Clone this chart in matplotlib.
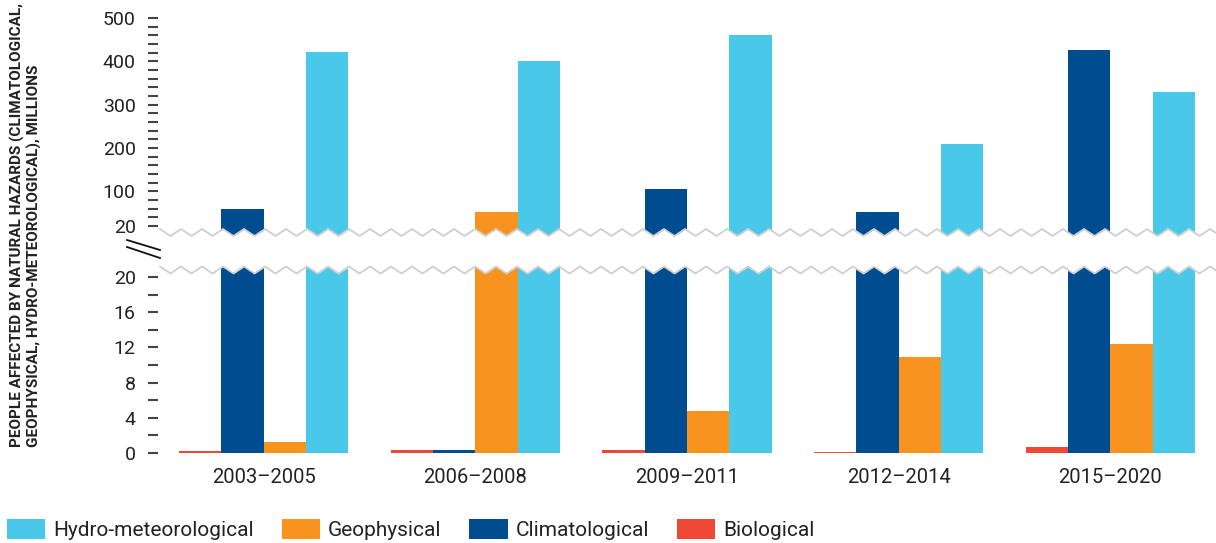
import numpy as np
import matplotlib
matplotlib.use('Agg')
import matplotlib.pyplot as plt
from matplotlib.patches import Patch

plt.rcParams['font.family'] = ['Roboto', 'DejaVu Sans']

# data, millions of people affected
periods = ['2003–2005', '2006–2008', '2009–2011', '2012–2014', '2015–2020']
biological = [0.25, 0.35, 0.3, 0.06, 0.7]
climatological = [59, 0.35, 105, 52, 425]
geophysical = [1.2, 52, 4.8, 10.9, 12.4]
hydro_met = [421, 400, 460, 209, 329]

names = ['Biological', 'Climatological', 'Geophysical', 'Hydro-meteorological']
values = [biological, climatological, geophysical, hydro_met]
colors = ['#EF4836', '#004C91', '#F7931E', '#4AC8EA']
legend_order = [3, 2, 1, 0]

top_ticks = [20, 100, 200, 300, 400, 500]
bottom_ticks = [0, 4, 8, 12, 16, 20]

W, H = 1216, 543
fig = plt.figure(figsize=(W / 100, H / 100), dpi=100)

def fy(px):
    return 1 - px / H

left = 158 / W
width = 1 - left

#top panel: 20 sits at pixel 226, 0.4336 px per unit
sc_top = 0.4336
ax_top = fig.add_axes([left, fy(240), width, (240 - 5) / H])
ax_top.set_ylim(20 - (240 - 226) / sc_top, 20 + (226 - 5) / sc_top)
#bottom panel: 0 at 453, 8.8 px per unit
sc_bot = 8.8
ax_bot = fig.add_axes([left, fy(453), width, (453 - 262) / H])
ax_bot.set_ylim(0, (453 - 262) / sc_bot)

x = np.arange(len(periods))
bw = 0.2
for i, (vals, col) in enumerate(zip(values, colors)):
    v = np.array(vals, dtype=float)
    pos = x + (i - 1.5) * bw
    ax_bot.bar(pos, v, bw, color=col, linewidth=0)
    ax_top.bar(pos, np.where(v > 20, v, 0), bw, color=col, linewidth=0)

for ax in (ax_top, ax_bot):
    ax.set_xlim(-0.5, len(periods) - 0.5)
    for s in ax.spines.values():
        s.set_visible(False)
    ax.tick_params(axis='y', which='both', length=7, width=1.5, color='#444444',
                   pad=9, labelsize=14, labelcolor='#222222')

ax_top.set_yticks(top_ticks)
ax_top.set_yticks(np.arange(20, 501, 20), minor=True)
ax_top.set_xticks([])
ax_bot.set_yticks(bottom_ticks)
ax_bot.set_yticks(np.arange(0, 21, 2), minor=True)
ax_bot.set_xticks(x)
ax_bot.set_xticklabels(periods)
ax_bot.tick_params(axis='x', length=0, pad=11, labelsize=14.5, labelcolor='#222222')

#overlay for the axis break
ov = fig.add_axes([0, 0, 1, 1], zorder=10)
ov.set_xlim(0, W)
ov.set_ylim(H, 0)
ov.axis('off')
xs = np.arange(160, W + 21, 10.5)
zz_top = np.where(np.arange(len(xs)) % 2 == 0, 229, 236)
zz_bot = zz_top + 37.5
ov.fill_between(xs, zz_top, zz_bot, color='white', linewidth=0)
ov.plot(xs, zz_top, color='#cfcfcf', lw=1.3)
ov.plot(xs, zz_bot, color='#cfcfcf', lw=1.3)
ov.plot([127, 160], [240, 250], color='#111111', lw=1.3)
ov.plot([127, 160], [247, 258], color='#111111', lw=1.3)

fig.text(26 / W, fy(447),
         'PEOPLE AFFECTED BY NATURAL HAZARDS (CLIMATOLOGICAL,\nGEOPHYSICAL, HYDRO-METEOROLOGICAL), MILLIONS',
         rotation=90, ha='left', va='center', rotation_mode='anchor', multialignment='left',
         fontsize=11, fontweight='bold', color='#222222', linespacing=1.1)

handles = [Patch(facecolor=colors[i], label=names[i]) for i in legend_order]
fig.legend(handles=handles, loc='center left', bbox_to_anchor=(7 / W, fy(529.5)),
           ncol=4, frameon=False, fontsize=15, handlelength=1.83, handleheight=1.1,
           handletextpad=0.38, columnspacing=1.35, borderpad=0, borderaxespad=0,
           labelcolor='#222222')

fig.savefig('out.png', dpi=100)
